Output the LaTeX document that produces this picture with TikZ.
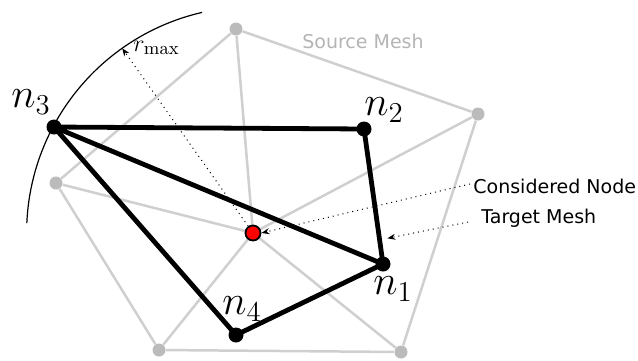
\documentclass[tikz,border=0pt]{standalone}
\usepackage{fontspec}
\newfontfamily\dvsans{DejaVu Sans}
\usetikzlibrary{arrows.meta}
\definecolor{meshgray}{HTML}{CFCFCF}
\definecolor{dotgray}{HTML}{BBBBBB}
\definecolor{labgray}{HTML}{B4B4B4}
\tikzset{
  srcnode/.style={circle,fill=dotgray,inner sep=0pt,minimum size=6.5pt},
  tgtnode/.style={circle,fill=black,inner sep=0pt,minimum size=7.5pt},
  cnode/.style={circle,fill=red,draw=black,line width=0.9pt,inner sep=0pt,minimum size=7.5pt},
  srcedge/.style={meshgray,line width=1.25pt},
  tgtedge/.style={black,line width=2.4pt,line join=round},
  pointer/.style={dotted,line width=0.5pt,-{Stealth[length=4pt,width=3pt]}},
  mlabel/.style={font=\fontsize{20.5}{22}\selectfont},
  tlabel/.style={font=\dvsans\fontsize{9.5}{11}\selectfont,anchor=west,inner sep=0pt},
}
\begin{document}
\begin{tikzpicture}[x=0.5pt,y=-0.5pt]
\useasboundingbox (0,0) rectangle (638,360);
% source mesh
\node[srcnode] (A) at (236,29) {};
\node[srcnode] (B) at (478,114) {};
\node[srcnode] (C) at (401,352) {};
\node[srcnode] (D) at (159,350) {};
\node[srcnode] (E) at (56,183) {};
\coordinate (R) at (253,233);
\draw[srcedge] (A) -- (B) -- (C) -- (D) -- (E) -- (A);
\foreach \p in {A,B,C,D,E} \draw[srcedge] (\p) -- (R);
\node[labgray,font=\dvsans\fontsize{9.5}{11}\selectfont,inner sep=0pt] (src) at (363,41) {Source Mesh};
% target mesh
\node[tgtnode] (n1) at (383,264) {};
\node[tgtnode] (n2) at (364,129) {};
\node[tgtnode] (n3) at (54,127) {};
\node[tgtnode] (n4) at (236,335) {};
\draw[tgtedge] (n3.center) -- (n2.center) -- (n1.center) -- (n3.center);
\draw[tgtedge] (n3.center) -- (n4.center) -- (n1.center);
\node[mlabel] (l1) at (393,289) {$n_1$};
\node[mlabel] (l2) at (384,110) {$n_2$};
\node[mlabel] (l3) at (31,102) {$n_3$};
\node[mlabel] (l4) at (242,309) {$n_4$};
% considered node
\node[cnode] (cn) at (R) {};
% radius circle
\draw[line width=0.6pt] (R) ++(182.5:226.4) arc[start angle=182.5,end angle=257,radius=226.4];
\path (R) ++(234.7:226.4) coordinate (rm);
\draw[pointer] (cn) -- (rm);
\node[font=\fontsize{13}{15}\selectfont,anchor=base west,inner sep=0pt] (rl) at (133,51) {$r_{\max}$};
% annotations
\node[tlabel] (tcn) at (473,186) {Considered Node};
\node[tlabel] (ttm) at (481,218) {Target Mesh};
\path (n2.center) -- (n1.center) coordinate[pos=0.81] (tm);
\draw[pointer] (tcn.west) ++(-3,-2) coordinate (tcs) (tcs) -- (cn.east);
\draw[pointer] (ttm.west) ++(-13,4) coordinate (tms) (tms) -- ([xshift=4]tm);
\end{tikzpicture}
\end{document}
